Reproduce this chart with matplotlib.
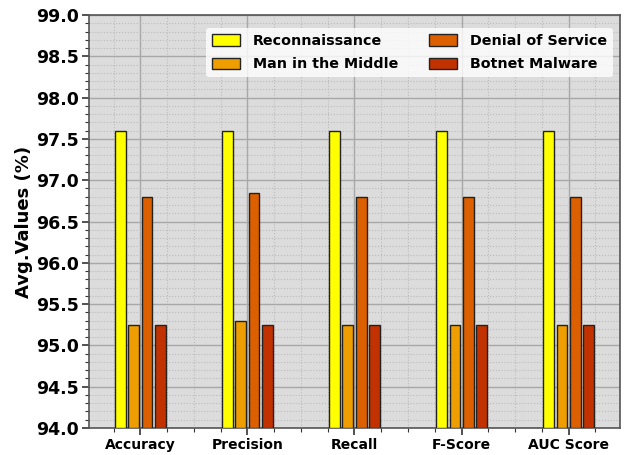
import numpy as np
import matplotlib.pyplot as plt
from matplotlib.ticker import MultipleLocator

# metrics and average values per attack type
metrics = ['Accuracy', 'Precision', 'Recall', 'F-Score', 'AUC Score']
recon = [97.6, 97.6, 97.6, 97.6, 97.6]
mitm = [95.25, 95.3, 95.25, 95.25, 95.25]
dos = [96.8, 96.84, 96.8, 96.8, 96.8]
botnet = [95.25, 95.25, 95.25, 95.25, 95.25]

series = [('Reconnaissance', recon, '#FFFF00'),
          ('Man in the Middle', mitm, '#EE9E00'),
          ('Denial of Service', dos, '#DD6000'),
          ('Botnet Malware', botnet, '#C23200')]

fig = plt.figure(figsize=(6.25, 4.55), dpi=100)
ax = fig.add_axes([0.1424, 0.0593, 0.8496, 0.9077])
ax.set_facecolor('#DCDCDC')

x = np.arange(len(metrics))
offsets = [-0.1875, -0.0625, 0.0625, 0.1875]
for (name, vals, col), off in zip(series, offsets):
    ax.bar(x + off, np.array(vals) - 94.0, bottom=94.0, width=0.1,
           color=col, edgecolor='#222222', linewidth=1.0, label=name, zorder=3)

ax.set_ylim(94.0, 99.0)
ax.set_xlim(-0.48, 4.48)
ax.set_xticks(x)
ax.set_xticklabels(metrics, fontsize=10, fontweight='bold')
ax.yaxis.set_major_locator(MultipleLocator(0.5))
ax.yaxis.set_minor_locator(MultipleLocator(0.1))
ax.xaxis.set_minor_locator(MultipleLocator(0.25))
ax.set_yticks(np.arange(94.0, 99.01, 0.5))
ax.set_yticklabels([f'{v:.1f}' for v in np.arange(94.0, 99.01, 0.5)],
                   fontsize=12.5, fontweight='bold')
ax.set_ylabel('Avg.Values (%)', fontsize=13, fontweight='bold', labelpad=2)

# solid major grid, dotted minor grid
ax.grid(which='major', color='#A8A8A8', linewidth=1.0, zorder=0)
ax.grid(which='minor', color='#BBBBBB', linestyle=':', linewidth=0.8, zorder=0)
ax.set_axisbelow(True)
ax.tick_params(which='major', length=5, width=1.2, color='#333333', pad=2.5)
ax.tick_params(which='minor', length=3, width=0.8, color='#333333')
for s in ax.spines.values():
    s.set_color('#555555')
    s.set_linewidth(1.2)

leg = ax.legend(ncol=2, loc='upper right', bbox_to_anchor=(1.0, 0.985),
                prop={'weight': 'bold', 'size': 10.3},
                frameon=True, facecolor='white', edgecolor='none', framealpha=0.8,
                handlelength=2.0, handleheight=0.85, labelspacing=0.65,
                columnspacing=2.1, handletextpad=0.9)

fig.savefig('out.png', dpi=100)
